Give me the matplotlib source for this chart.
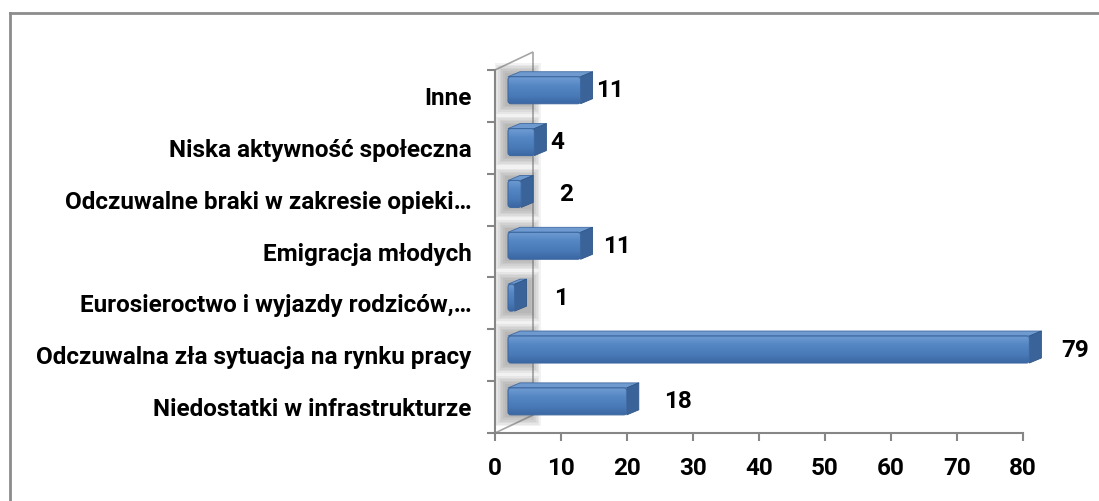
import matplotlib
matplotlib.use("Agg")
import matplotlib.pyplot as plt
import numpy as np
from matplotlib.patches import FancyBboxPatch, Polygon, Rectangle
from matplotlib.lines import Line2D

# dane: kategorie od dołu do góry
categories = [
    "Niedostatki w infrastrukturze",
    "Odczuwalna zła sytuacja na rynku pracy",
    "Eurosieroctwo i wyjazdy rodziców,…",
    "Emigracja młodych",
    "Odczuwalne braki w zakresie opieki…",
    "Niska aktywność społeczna",
    "Inne",
]
values = [18, 79, 1, 11, 2, 4, 11]
x_ticks = [0, 10, 20, 30, 40, 50, 60, 70, 80]

# przesunięcia etykiet wartości (jednostki osi x) - jak w Excelu
label_dx = [9.7, 8.9, 9.0, 7.5, 8.8, 5.4, 6.4]

plt.rcParams['font.family'] = ['Roboto', 'DejaVu Sans']
fs = 17.5

fig = plt.figure(figsize=(10.99, 5.01), dpi=100)
px_x = 528 / 80          # piksele na jednostkę x
x_max = 86
ax = fig.add_axes([495 / 1099, 68 / 501, x_max * px_x / 1099, 363 / 501])

# ramka wykresu (tylko góra i lewa strona widoczne)
fig.add_artist(Line2D([10 / 1099, 1], [1 - 13 / 501, 1 - 13 / 501], color="#8c8c8c", lw=2))
fig.add_artist(Line2D([10 / 1099, 10 / 1099], [0, 1 - 13 / 501], color="#8c8c8c", lw=2))

n = len(categories)
px_y = 363 / n
wall_dx = 38 / px_x
wall_dy = 18 / px_y

# ściana boczna 3D
wall = Polygon([(0, -0.5), (wall_dx, -0.5 + wall_dy), (wall_dx, n - 0.5 + wall_dy), (0, n - 0.5)],
               closed=True, facecolor="white", edgecolor="#a6a6a6", lw=1.2, clip_on=False, zorder=1)
ax.add_patch(wall)

depth_x = 12 / px_x
depth_y = 5 / px_y
start = 13 / px_x
bar_bot = -0.15
bar_h = 0.52
grad = np.linspace(0, 1, 64).reshape(-1, 1)
cmap = matplotlib.colors.LinearSegmentedColormap.from_list(
    "bar", ["#3b67a3", "#4a7bb9", "#5386c3", "#6f9bd2"])

for i, v in enumerate(values):
    y0 = i + bar_bot
    # cień na ścianie
    for k in range(7):
        sh = Rectangle((wall_dx * 0.25 - k * 0.25, y0 - 0.04 - k * 0.03),
                       wall_dx * 0.7 + k * 0.5, bar_h + 0.12 + k * 0.06,
                       facecolor="#6f6f6f", edgecolor="none", alpha=0.09, zorder=1.5, clip_on=False)
        sh.set_clip_path(wall)
        ax.add_patch(sh)

    x0 = start
    x1 = start + v
    # górna ściana
    top = Polygon([(x0, y0 + bar_h), (x0 + depth_x, y0 + bar_h + depth_y),
                   (x1 + depth_x, y0 + bar_h + depth_y), (x1, y0 + bar_h)],
                  closed=True, facecolor="#6f9ad0", edgecolor="#3f6aa2", lw=0.6, zorder=3,
                  joinstyle="round")
    ax.add_patch(top)
    # boczna ściana
    side = Polygon([(x1, y0), (x1 + depth_x, y0 + depth_y),
                    (x1 + depth_x, y0 + bar_h + depth_y), (x1, y0 + bar_h)],
                   closed=True, facecolor="#3a6499", edgecolor="#2f5687", lw=0.6, zorder=3,
                   joinstyle="round")
    ax.add_patch(side)
    # przednia ściana z gradientem
    front = FancyBboxPatch((x0, y0), v, bar_h,
                           boxstyle="round,pad=0,rounding_size=0.45",
                           mutation_aspect=px_x / px_y,
                           facecolor="none", edgecolor="#3d68a0", lw=0.8, zorder=5)
    ax.add_patch(front)
    im = ax.imshow(grad, cmap=cmap, aspect="auto", origin="lower",
                   extent=(x0, x1, y0, y0 + bar_h), zorder=4, interpolation="bilinear")
    im.set_clip_path(front)

    ax.text(v + label_dx[i], i + 0.1, str(v), ha="center", va="center",
            fontsize=fs, fontweight="bold", color="black")

ax.set_xlim(0, x_max)
ax.set_ylim(-0.5, n - 0.5)

# osie
for s in ["top", "right"]:
    ax.spines[s].set_visible(False)
for s in ["left", "bottom"]:
    ax.spines[s].set_color("#868686")
    ax.spines[s].set_linewidth(1.5)
    ax.spines[s].set_zorder(2)
ax.spines["bottom"].set_bounds(0, 80)

ax.set_xticks(x_ticks)
ax.set_xticklabels([str(t) for t in x_ticks], fontsize=fs, fontweight="bold")
ax.tick_params(axis="x", length=6, width=1.5, color="#868686", pad=11)

ax.set_yticks(range(n))
ax.set_yticklabels(categories, fontsize=fs, fontweight="bold")
ax.set_yticks(np.arange(-0.5, n, 1), minor=True)
ax.tick_params(axis="y", which="major", length=0, pad=17)
ax.tick_params(axis="y", which="minor", length=6, width=1.5, color="#868686")

fig.savefig("out.png", dpi=100)
